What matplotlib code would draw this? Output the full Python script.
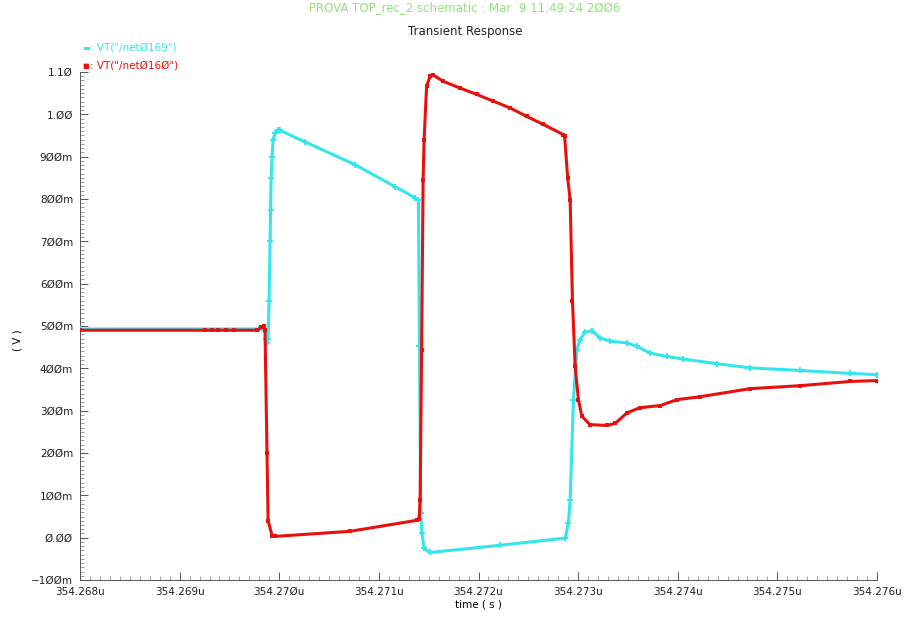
import matplotlib
matplotlib.use('Agg')
import matplotlib.pyplot as plt
from matplotlib.ticker import MultipleLocator

# time in ns after 354.268u
t_net0169 = [0.0, 1.80, 1.857, 1.867, 1.877, 1.888, 1.898, 1.908, 1.913, 1.918, 1.928,
             1.938, 1.958, 1.988, 2.008, 2.259, 2.761, 3.163, 3.363, 3.397, 3.407,
             3.421, 3.431, 3.454, 3.514, 4.217, 4.870, 4.903, 4.920, 4.953, 4.987,
             5.020, 5.070, 5.137, 5.221, 5.321, 5.489, 5.589, 5.723, 5.890, 6.057,
             6.392, 6.727, 7.229, 7.731, 8.0]
v_net0169 = [0.493, 0.493, 0.49, 0.47, 0.46, 0.47, 0.56, 0.70, 0.775, 0.85, 0.90,
             0.94, 0.955, 0.962, 0.962, 0.935, 0.881, 0.829, 0.803, 0.798, 0.452,
             0.059, 0.012, -0.025, -0.035, -0.018, -0.001, 0.035, 0.090, 0.326, 0.444,
             0.468, 0.485, 0.489, 0.472, 0.464, 0.460, 0.452, 0.436, 0.428, 0.422,
             0.411, 0.401, 0.395, 0.388, 0.385]

t_net0160 = [0.0, 1.255, 1.325, 1.386, 1.466, 1.546, 1.78, 1.82, 1.845, 1.857, 1.877,
             1.888, 1.928, 1.958, 2.711, 3.381, 3.404, 3.414, 3.429, 3.444, 3.454,
             3.479, 3.514, 3.539, 3.645, 3.815, 3.983, 4.150, 4.317, 4.485, 4.652,
             4.852, 4.864, 4.895, 4.920, 4.943, 4.970, 5.003, 5.037, 5.120, 5.291,
             5.371, 5.492, 5.622, 5.823, 5.994, 6.225, 6.727, 7.229, 7.731, 8.0]
v_net0160 = [0.49, 0.49, 0.49, 0.49, 0.49, 0.49, 0.49, 0.497, 0.50, 0.49, 0.20,
             0.04, 0.005, 0.003, 0.015, 0.041, 0.045, 0.09, 0.444, 0.846, 0.94,
             1.066, 1.09, 1.094, 1.078, 1.062, 1.047, 1.031, 1.015, 0.995, 0.976,
             0.952, 0.950, 0.85, 0.798, 0.56, 0.405, 0.326, 0.287, 0.267, 0.265,
             0.27, 0.295, 0.307, 0.312, 0.326, 0.333, 0.352, 0.359, 0.369, 0.371]

x_labels = ['354.268u', '354.269u', '354.27Øu', '354.271u', '354.272u',
            '354.273u', '354.274u', '354.275u', '354.276u']
y_vals = [-0.1, 0.0, 0.1, 0.2, 0.3, 0.4, 0.5, 0.6, 0.7, 0.8, 0.9, 1.0, 1.1]
y_labels = ['−1ØØm', 'Ø.ØØ', '1ØØm', '2ØØm', '3ØØm', '4ØØm', '5ØØm',
            '6ØØm', '7ØØm', '8ØØm', '9ØØm', '1.ØØ', '1.1Ø']

CYAN = '#33e6ee'
RED = '#e8100c'
W, H = 915, 619

fig = plt.figure(figsize=(9.15, 6.19), dpi=100)
ax = fig.add_axes([80 / W, 1 - 580 / H, (877 - 80) / W, (580 - 72) / H])

ax.plot(t_net0169, v_net0169, color=CYAN, lw=2.2, marker='+', ms=5, mew=1.4, zorder=3)
ax.plot(t_net0160, v_net0160, color=RED, lw=2.2, marker='s', ms=2.6, mew=0, zorder=4)

ax.set_xlim(0, 8)
ax.set_ylim(-0.1, 1.1)
ax.set_xticks(range(len(x_labels)))
ax.set_xticklabels(x_labels, fontsize=7.5, color='#222222')
ax.set_yticks(y_vals)
ax.set_yticklabels(y_labels, fontsize=7.5, color='#222222')
ax.xaxis.set_minor_locator(MultipleLocator(0.1))
ax.yaxis.set_minor_locator(MultipleLocator(0.01))
ax.tick_params(which='major', direction='in', length=6, width=0.7, color='#555555', pad=5)
ax.tick_params(which='minor', direction='in', length=3, width=0.5, color='#777777')
for side in ('top', 'right'):
    ax.spines[side].set_visible(False)
for side in ('left', 'bottom'):
    ax.spines[side].set_color('#555555')
    ax.spines[side].set_linewidth(0.7)

ax.set_xlabel('time ( s )', fontsize=7.5, labelpad=2)
fig.text(18 / W, 1 - 340 / H, '( V )', rotation=90, fontsize=7.5,
         ha='center', va='center')

# headers
fig.text(465 / W, 1 - 8 / H, 'PROVA TOP_rec_2 schematic : Mar  9 11:49:24 2ØØ6',
         color='#8fe37a', fontsize=8.5, ha='center', va='center')
fig.text(465 / W, 1 - 31 / H, 'Transient Response', fontsize=8.5,
         ha='center', va='center', color='#222222')

# legend
fig.text(86 / W, 1 - 48 / H, '▬', color=CYAN, fontsize=6, ha='center', va='center')
fig.text(90 / W, 1 - 48 / H, ': VT("/netØ169")', color=CYAN, fontsize=7.5, va='center')
fig.text(86 / W, 1 - 66 / H, '■', color=RED, fontsize=5, ha='center', va='center')
fig.text(90 / W, 1 - 66 / H, ': VT("/netØ16Ø")', color=RED, fontsize=7.5, va='center')

fig.savefig('out.png')
